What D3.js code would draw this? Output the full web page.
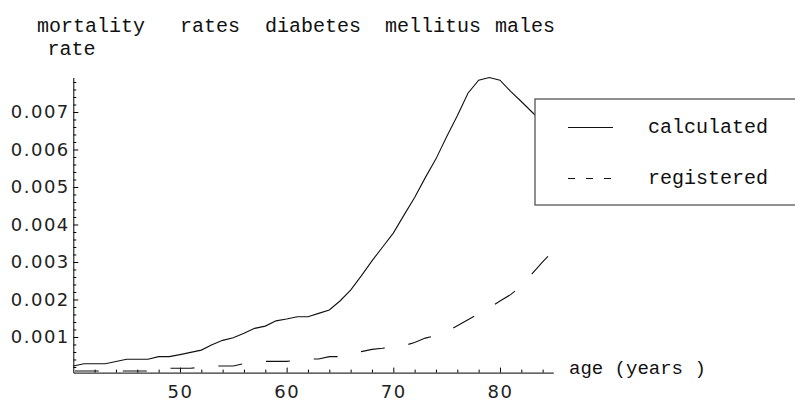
<!DOCTYPE html>
<html>
<head>
<meta charset="utf-8">
<script src="https://cdn.jsdelivr.net/npm/d3@7"></script>
<style>
  html, body { margin: 0; padding: 0; background: #fff; }
  svg { display: block; }
  .mono { font-family: "Liberation Mono", "Courier New", monospace; font-size: 20px; fill: #111; }
  .tick text { font-family: "DejaVu Sans", sans-serif; font-size: 18px; letter-spacing: 1.5px; fill: #222; }
</style>
</head>
<body>
<svg id="chart" width="795" height="401"></svg>
<script>
// Age in years, one value per year
const ages = d3.range(40, 86);

// Calculated mortality rate (solid)
const calculated = [
  0.000227, 0.000288, 0.000288, 0.000288, 0.000345, 0.000405, 0.000405, 0.000405,
  0.000475, 0.000475, 0.00053, 0.00059, 0.00065, 0.00079, 0.00091, 0.00098,
  0.0011, 0.00123, 0.00129, 0.00143, 0.00148, 0.00154, 0.00154, 0.00163,
  0.00172, 0.00196, 0.00225, 0.00263, 0.00303, 0.0034, 0.00377, 0.00425,
  0.00472, 0.00525, 0.00575, 0.00634, 0.0069, 0.0075, 0.00785, 0.00792,
  0.00785, 0.00755, 0.00728, 0.007, 0.00672, 0.00645
];

// Registered mortality rate (dashed)
const registered = [
  0.000093, 0.000093, 0.000093, 0.000093, 0.000093, 0.000093, 0.000093, 0.000093,
  0.000165, 0.000165, 0.000165, 0.000165, 0.000195, 0.000227, 0.000227, 0.000227,
  0.00029, 0.00032, 0.00035, 0.00035, 0.00035, 0.00038, 0.000413, 0.000413,
  0.000475, 0.000475, 0.00054, 0.00061, 0.00067, 0.0007, 0.00075, 0.00077,
  0.00085, 0.00097, 0.00104, 0.00114, 0.0013, 0.00146, 0.00162, 0.00177,
  0.00196, 0.00213, 0.00236, 0.00268, 0.003, 0.0033
];

const xMajorTicks = [50, 60, 70, 80];
const xMinorTicks = d3.range(42, 85, 2).filter(v => !xMajorTicks.includes(v));
const yMajorTicks = [0.001, 0.002, 0.003, 0.004, 0.005, 0.006, 0.007];
const yMinorTicks = d3.range(1, 40).map(i => +(i * 0.0002).toFixed(4)).filter(v => !yMajorTicks.includes(v));

const titleWords = ["mortality", "rates", "diabetes", "mellitus", "males"];
const titleX = [37, 180, 265, 385, 495];
const seriesNames = ["calculated", "registered"];

const svg = d3.select("#chart");

const x = d3.scaleLinear().domain([40, 85]).range([73.3, 553.3]);
const y = d3.scaleLinear().domain([0.00005, 0.00792]).range([372.6, 77.5]);

// axes (ticks point into the plot)
const xAxisG = svg.append("g").attr("transform", `translate(0,${y(0.00005)})`);
xAxisG.call(d3.axisBottom(x).tickValues(xMajorTicks).tickFormat(d3.format("d"))
  .tickSizeInner(-5).tickSizeOuter(0).tickPadding(13));
svg.append("g").attr("transform", `translate(0,${y(0.00005)})`)
  .call(d3.axisBottom(x).tickValues(xMinorTicks).tickFormat("").tickSizeInner(-3).tickSizeOuter(0))
  .call(g => g.select(".domain").remove());

const yAxisG = svg.append("g").attr("transform", `translate(${x(40)},0)`);
yAxisG.call(d3.axisLeft(y).tickValues(yMajorTicks).tickFormat(d3.format(".3f"))
  .tickSizeInner(-5).tickSizeOuter(0).tickPadding(3.5));
svg.append("g").attr("transform", `translate(${x(40)},0)`)
  .call(d3.axisLeft(y).tickValues(yMinorTicks).tickFormat("").tickSizeInner(-3).tickSizeOuter(0))
  .call(g => g.select(".domain").remove());

svg.selectAll(".domain").attr("stroke", "#000").attr("stroke-width", 1);
svg.selectAll(".tick line").attr("stroke", "#000").attr("stroke-width", 1);

// curves
const line = d3.line().x((d, i) => x(ages[i])).y(d => y(d));

svg.append("path").datum(calculated)
  .attr("d", line).attr("fill", "none").attr("stroke", "#111").attr("stroke-width", 1.1);

svg.append("path").datum(registered)
  .attr("d", line).attr("fill", "none").attr("stroke", "#111").attr("stroke-width", 1.1)
  .attr("stroke-dasharray", "24,24").attr("stroke-dashoffset", -1.5);

// title and axis labels
svg.selectAll(".title-word").data(titleWords).join("text")
  .attr("class", "mono title-word")
  .attr("x", (d, i) => titleX[i]).attr("y", 31.7)
  .text(d => d);

svg.append("text").attr("class", "mono").attr("x", 47.5).attr("y", 55).text("rate");
svg.append("text").attr("class", "mono").attr("x", 569).attr("y", 373.5)
  .style("font-size", "19px").text("age (years )");

// legend
const legend = svg.append("g");
legend.append("rect")
  .attr("x", 535).attr("y", 99).attr("width", 280).attr("height", 106)
  .attr("fill", "#fff").attr("stroke", "#555").attr("stroke-width", 1.3);

const legendY = [127.5, 178.5];
legend.selectAll(".swatch").data(seriesNames).join("line")
  .attr("class", "swatch")
  .attr("x1", 568).attr("x2", 613)
  .attr("y1", (d, i) => legendY[i]).attr("y2", (d, i) => legendY[i])
  .attr("stroke", "#111").attr("stroke-width", 1.1)
  .attr("stroke-dasharray", (d, i) => i === 1 ? "7,11" : null);

legend.selectAll(".label").data(seriesNames).join("text")
  .attr("class", "mono label")
  .attr("x", 648).attr("y", (d, i) => legendY[i] + 5.5)
  .text(d => d);
</script>
</body>
</html>
